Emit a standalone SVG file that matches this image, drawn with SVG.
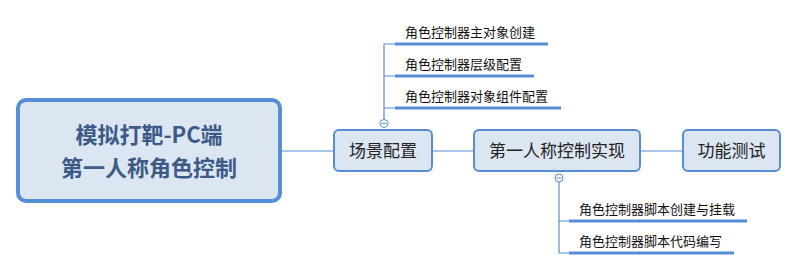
<svg xmlns="http://www.w3.org/2000/svg" width="797" height="270" viewBox="0 0 797 270">
<style>
text{font-family:"Noto Sans CJK SC","Liberation Sans",sans-serif;}
.root rect{fill:#dce6f2;stroke:#558ed5;stroke-width:4;}
.root text{fill:#3c5a86;font-size:22px;font-weight:bold;text-anchor:middle;}
.box rect{fill:#dce6f2;stroke:#558ed5;stroke-width:2;}
.box text{fill:#222;font-size:17px;text-anchor:middle;}
.leaf text{fill:#111;font-size:13px;}
.leaf .ul{stroke:#558ed5;stroke-width:3;}
.conn line,.conn path{stroke:#558ed5;stroke-width:1.2;fill:none;}
.tog{fill:#fff;stroke:#558ed5;stroke-width:1;}
.tog-l{stroke:#558ed5;stroke-width:1;}
</style>
<g class="conn">
<line x1="281" y1="151" x2="334" y2="151"/>
<line x1="432" y1="151" x2="474" y2="151"/>
<line x1="640" y1="151" x2="683" y2="151"/>
<path d="M384 119 V44 H396 M384 76 H396 M384 108 H396"/>
<path d="M559 182 V253 H570 M559 221 H570"/>
</g>
<g id="root" class="root">
<rect x="18" y="100" width="262" height="101" rx="8"/>
<text x="149" y="143">模拟打靶-PC端</text>
<text x="149" y="175.500">第一人称角色控制</text>
</g>
<g id="scene" class="box">
<rect x="334" y="130" width="98" height="41" rx="5"/>
<text x="383" y="157">场景配置</text>
</g>
<g id="impl" class="box">
<rect x="474" y="130" width="166" height="41" rx="5"/>
<text x="557" y="157">第一人称控制实现</text>
</g>
<g id="test" class="box">
<rect x="683" y="130" width="97" height="41" rx="5"/>
<text x="731.500" y="157">功能测试</text>
</g>
<g id="t1" class="leaf">
<text x="405" y="37">角色控制器主对象创建</text>
<line class="ul" x1="395" y1="44" x2="548" y2="44"/>
</g>
<g id="t2" class="leaf">
<text x="405" y="69">角色控制器层级配置</text>
<line class="ul" x1="395" y1="76" x2="534" y2="76"/>
</g>
<g id="t3" class="leaf">
<text x="405" y="101">角色控制器对象组件配置</text>
<line class="ul" x1="395" y1="108" x2="561" y2="108"/>
</g>
<g id="b1" class="leaf">
<text x="579" y="214">角色控制器脚本创建与挂载</text>
<line class="ul" x1="569" y1="221" x2="747" y2="221"/>
</g>
<g id="b2" class="leaf">
<text x="579" y="246">角色控制器脚本代码编写</text>
<line class="ul" x1="569" y1="253" x2="734" y2="253"/>
</g>
<g id="toggles">
<circle class="tog" cx="384" cy="123.500" r="4"/>
<line class="tog-l" x1="381.500" y1="123.500" x2="386.500" y2="123.500"/>
<circle class="tog" cx="559" cy="178" r="4"/>
<line class="tog-l" x1="556.500" y1="178" x2="561.500" y2="178"/>
</g>
</svg>
